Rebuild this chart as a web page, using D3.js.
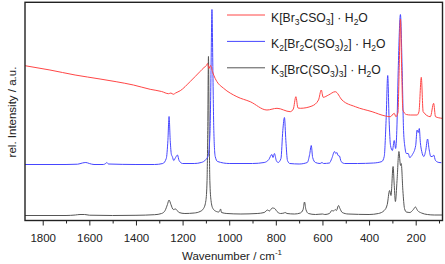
<!DOCTYPE html>
<html>
<head>
<meta charset="utf-8">
<script src="https://cdn.jsdelivr.net/npm/d3@7"></script>
<style>
  body { margin: 0; background: #fff; }
  text { font-family: "Liberation Sans", Arial, sans-serif; fill: #222; }
</style>
</head>
<body>
<script>
// [wavenumber, intensity] (intensity includes the stacking offset)
var black = [
  [1876,5],[1700,5],[1660,5.5],[1640,6],[1620,6],[1600,5.3],[1500,5],[1400,5.2],[1320,5.8],
  [1290,7],[1275,10],[1265,16],[1258,20.5],[1250,16],[1240,11],[1230,11.5],[1225,10.5],[1215,8],
  [1190,7],[1150,7.5],[1125,9],[1110,12],[1100,20],[1095,40],[1092,90],[1089,164],[1086,90],
  [1083,40],[1078,20],[1070,12],[1055,9],[1045,8.5],[1040,10],[1037,11.5],[1033,8],[1010,7],
  [950,6.5],[880,7],[850,8],[835,10.5],[828,9.5],[815,12.5],[805,12],[795,9],[780,7],[765,7.5],
  [760,8],[752,7],[720,6.5],[695,7.5],[683,11],[677,18.5],[671,11],[660,7],[630,6],[600,6.5],
  [590,6],[570,7],[560,10],[553,9.5],[545,11],[540,10],[531,15],[525,12],[515,8],[490,6.5],
  [400,6],[360,7],[335,10],[322,16],[312,30],[306,25],[297,54],[292,35],[287,19],[280,40],
  [272,69],[265,55],[262,57],[255,30],[248,12],[240,8.5],[225,8],[210,11],[201,13.5],[192,10],
  [175,7.5],[150,6],[120,5.5],[87,5.5]
];
var blue = [
  [1876,56],[1700,56],[1650,56.3],[1630,57.5],[1615,58],[1600,57],[1580,56],[1540,56],[1530,57],
  [1525,58],[1518,56.5],[1400,56],[1320,56],[1285,57],[1270,62],[1263,80],[1258,104],[1253,80],
  [1248,66],[1244,64],[1238,60],[1230,63],[1222,65.5],[1215,60],[1200,57],[1150,57],[1120,58],
  [1100,61],[1090,65],[1082,90],[1078,150],[1074,211],[1070,150],[1066,90],[1060,64],[1050,59],
  [1000,57],[900,57],[850,58],[830,61],[817,66],[812,63],[806,67],[798,60],[790,58],[778,62],
  [770,90],[763,103],[757,80],[750,60],[740,57],[700,56.5],[665,58],[655,66],[648,75],[642,63],
  [630,58],[610,57],[602,58],[595,57],[570,57.5],[560,62],[548,69],[543,67],[538,68],[533,65],
  [527,64.5],[520,59],[505,57],[450,57],[380,57.5],[345,59],[335,64],[327,100],[320,145],
  [314,100],[308,75],[300,70],[292,80],[286,72],[281,90],[275,150],[265.5,206],[258,150],
  [252,90],[246,73],[240,67],[232,67],[226,63],[214,66],[200,75],[194,90.5],[189,88],[184.5,92],
  [180,78],[174,69],[165,64],[157,70],[149,81.5],[143,72],[135,64],[128,64],[123,65.5],[115,60],
  [100,58],[90,57.8]
];
var red = [
  [1876,154.8],[1769,150.5],[1661,145.5],[1554,141.5],[1485,138.8],[1411,135.5],[1339,131.2],
  [1290,129],[1260,126.8],[1250,127.5],[1240,126.2],[1230,127.5],[1210,129.8],[1168,138.8],
  [1125,149],[1108,153],[1098,155],[1093,157],[1087,152],[1080,155],[1072,149],[1060,142],
  [1053,139],[1024,132.2],[967,123.8],[910,118.8],[838,110.5],[795,112.2],[738,108.8],[725,111.5],
  [714,123.8],[705,112.5],[695,112.2],[645,114.5],[617,120.5],[605,130.5],[597,123.2],
  [574,125.5],[545,128.8],[516,120.5],[459,113.8],[387,108.8],[330,104.5],[309,103.8],
  [292,107.2],[285,103.8],[276,108],[271,150],[265.5,201.5],[260,150],[255,110.5],[240,106],
  [223,105.5],[194,105.5],[186,108.8],[176,143.2],[168,108.8],[137,103.8],[123,117.2],
  [115,103.8],[87,102.2]
];
var xTicks = [1800, 1600, 1400, 1200, 1000, 800, 600, 400, 200];
var xMinor = [1700, 1500, 1300, 1100, 900, 700, 500, 300, 100];

var margin = { top: 2.3, left: 25, right: 2.5, bottom: 43.5 },
  W = 445, H = 264;

var svg = d3.select("body").append("svg")
    .attr("width", W)
    .attr("height", H);

var x = d3.scaleLinear().domain([1876, 85]).range([margin.left, W - margin.right]);
var y = d3.scaleLinear().domain([0, 218.2]).range([H - margin.bottom, margin.top]);

var line = d3.line()
  .x(function(d) { return x(d[0]); })
  .y(function(d) { return y(d[1]); })
  .curve(d3.curveMonotoneX);

// minor + major ticks, outward from the bottom edge
svg.append("g")
  .attr("transform", "translate(0," + y(0) + ")")
  .call(d3.axisBottom(x).tickValues(xMinor).tickSize(3).tickFormat(""))
  .call(function(g) { g.select(".domain").remove(); g.selectAll("line").attr("stroke", "#222"); });

svg.append("g")
  .attr("transform", "translate(0," + y(0) + ")")
  .call(d3.axisBottom(x).tickValues(xTicks).tickSize(5).tickPadding(8).tickFormat(d3.format("d")))
  .call(function(g) {
    g.select(".domain").remove();
    g.selectAll("line").attr("stroke", "#222");
    g.selectAll("text").attr("font-size", 11.5).attr("font-family", "Liberation Sans, Arial, sans-serif").attr("fill", "#222");
  });

var series = [
  { data: black, color: "#555" },
  { data: blue, color: "#4646ff" },
  { data: red, color: "#ff4646" }
];
series.forEach(function(s) {
  svg.append("path")
    .attr("d", line(s.data))
    .attr("fill", "none")
    .attr("stroke", s.color)
    .attr("stroke-width", 1);
});

// frame
svg.append("rect")
  .attr("x", margin.left).attr("y", margin.top)
  .attr("width", W - margin.left - margin.right)
  .attr("height", H - margin.top - margin.bottom)
  .attr("fill", "none").attr("stroke", "#222").attr("stroke-width", 1.4);

// legend
var legend = [
  { color: "#ff4646", parts: [["K[Br", 0], ["3", 1], ["CSO", 0], ["3", 1], ["] \u00b7 H", 0], ["2", 1], ["O", 0]] },
  { color: "#4646ff", parts: [["K", 0], ["2", 1], ["[Br", 0], ["2", 1], ["C(SO", 0], ["3", 1], [")", 0], ["2", 1], ["] \u00b7 H", 0], ["2", 1], ["O", 0]] },
  { color: "#555", parts: [["K", 0], ["3", 1], ["[BrC(SO", 0], ["3", 1], [")", 0], ["3", 1], ["] \u00b7 H", 0], ["2", 1], ["O", 0]] }
];
legend.forEach(function(l, i) {
  var ly = 15 + i * 26.4;
  svg.append("line")
    .attr("x1", 227).attr("x2", 265).attr("y1", ly).attr("y2", ly)
    .attr("stroke", l.color).attr("stroke-width", 1);
  var t = svg.append("text").attr("x", 271).attr("y", ly + 6.5).attr("font-size", 12.2);
  l.parts.forEach(function(p, j) {
    var ts = t.append("tspan").text(p[0]);
    if (p[1]) ts.attr("font-size", 8.5).attr("dy", 3);
    else if (j > 0 && l.parts[j - 1][1]) ts.attr("dy", -3);
  });
});

// axis titles
var xt = svg.append("text")
  .attr("x", 232).attr("y", 259.5)
  .attr("text-anchor", "middle").attr("font-size", 11.5);
xt.append("tspan").text("Wavenumber / cm");
xt.append("tspan").text("-1").attr("font-size", 8).attr("dy", -5);

svg.append("text")
  .attr("transform", "translate(16,112) rotate(-90)")
  .attr("text-anchor", "middle").attr("font-size", 11.5)
  .text("rel. Intensity / a.u.");
</script>
</body>
</html>
